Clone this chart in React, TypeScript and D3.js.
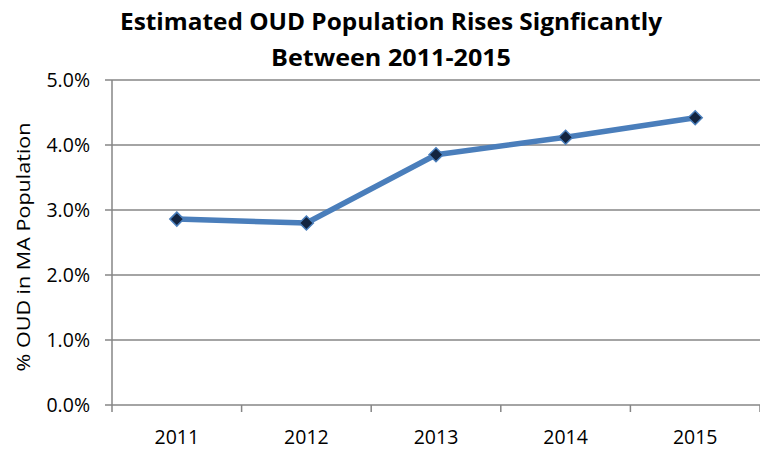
import React from "react";
import * as d3 from "d3";

const years = ["2011", "2012", "2013", "2014", "2015"];
const oudPct = [2.86, 2.8, 3.85, 4.12, 4.42];
const yTicks = [0, 1, 2, 3, 4, 5];
const titleLines = ["Estimated OUD Population Rises Signficantly", "Between 2011-2015"];
const yAxisTitle = "% OUD in MA Population";

export default function App() {
  const W = 760, H = 451;
  const left = 112, right = 760, top = 80, bottom = 405;
  const x = d3.scaleBand<string>().domain(years).range([left, right]);
  const y = d3.scaleLinear().domain([0, 5]).range([bottom, top]);
  const data = years.map((yr, i) => ({ yr, v: oudPct[i] }));
  const line = d3
    .line<{ yr: string; v: number }>()
    .x((d) => (x(d.yr) as number) + x.bandwidth() / 2)
    .y((d) => y(d.v));
  const grid = "#868686";
  const font = "'Open Sans', 'Liberation Sans', Arial, sans-serif";
  const tickX = [...years.map((yr) => x(yr) as number), right];
  return (
    <svg width={W} height={H} style={{ position: "absolute", left: 0, top: 0, background: "#fff" }}>
      <text x={391} y={29.5} textAnchor="middle" fontFamily={font} fontWeight="bold" fontSize={24} textLength={542} lengthAdjust="spacingAndGlyphs">
        {titleLines[0]}
      </text>
      <text x={391} y={65.5} textAnchor="middle" fontFamily={font} fontWeight="bold" fontSize={24} textLength={240} lengthAdjust="spacingAndGlyphs">
        {titleLines[1]}
      </text>
      {yTicks.map((t) => (
        <g key={t}>
          <line x1={left - 7} x2={right} y1={y(t)} y2={y(t)} stroke={grid} strokeWidth={1.5} />
          <text x={90} y={y(t) + 6.5} textAnchor="end" fontFamily={font} fontSize={19.5} fill="#000">
            {t.toFixed(1) + "%"}
          </text>
        </g>
      ))}
      <line x1={left} x2={left} y1={top} y2={bottom} stroke={grid} strokeWidth={1.5} />
      {tickX.map((tx, i) => (
        <line key={i} x1={tx} x2={tx} y1={bottom} y2={bottom + 7} stroke={grid} strokeWidth={1.5} />
      ))}
      {years.map((yr) => (
        <text key={yr} x={(x(yr) as number) + x.bandwidth() / 2} y={444} textAnchor="middle" fontFamily={font} fontSize={19.5} fill="#000">
          {yr}
        </text>
      ))}
      <text transform={`translate(30,247) rotate(-90)`} textAnchor="middle" fontFamily={font} fontSize={18.5} fill="#000" textLength={249} lengthAdjust="spacingAndGlyphs">
        {yAxisTitle}
      </text>
      <path d={line(data) || ""} fill="none" stroke="#4a7ebb" strokeWidth={5.5} strokeLinejoin="round" />
      {data.map((d) => {
        const cx = (x(d.yr) as number) + x.bandwidth() / 2;
        const cy = y(d.v);
        const r = 7;
        return (
          <path
            key={d.yr}
            d={`M${cx},${cy - r}L${cx + r},${cy}L${cx},${cy + r}L${cx - r},${cy}Z`}
            fill="#13243f"
            stroke="#4a7ebb"
            strokeWidth={1.5}
          />
        );
      })}
    </svg>
  );
}
